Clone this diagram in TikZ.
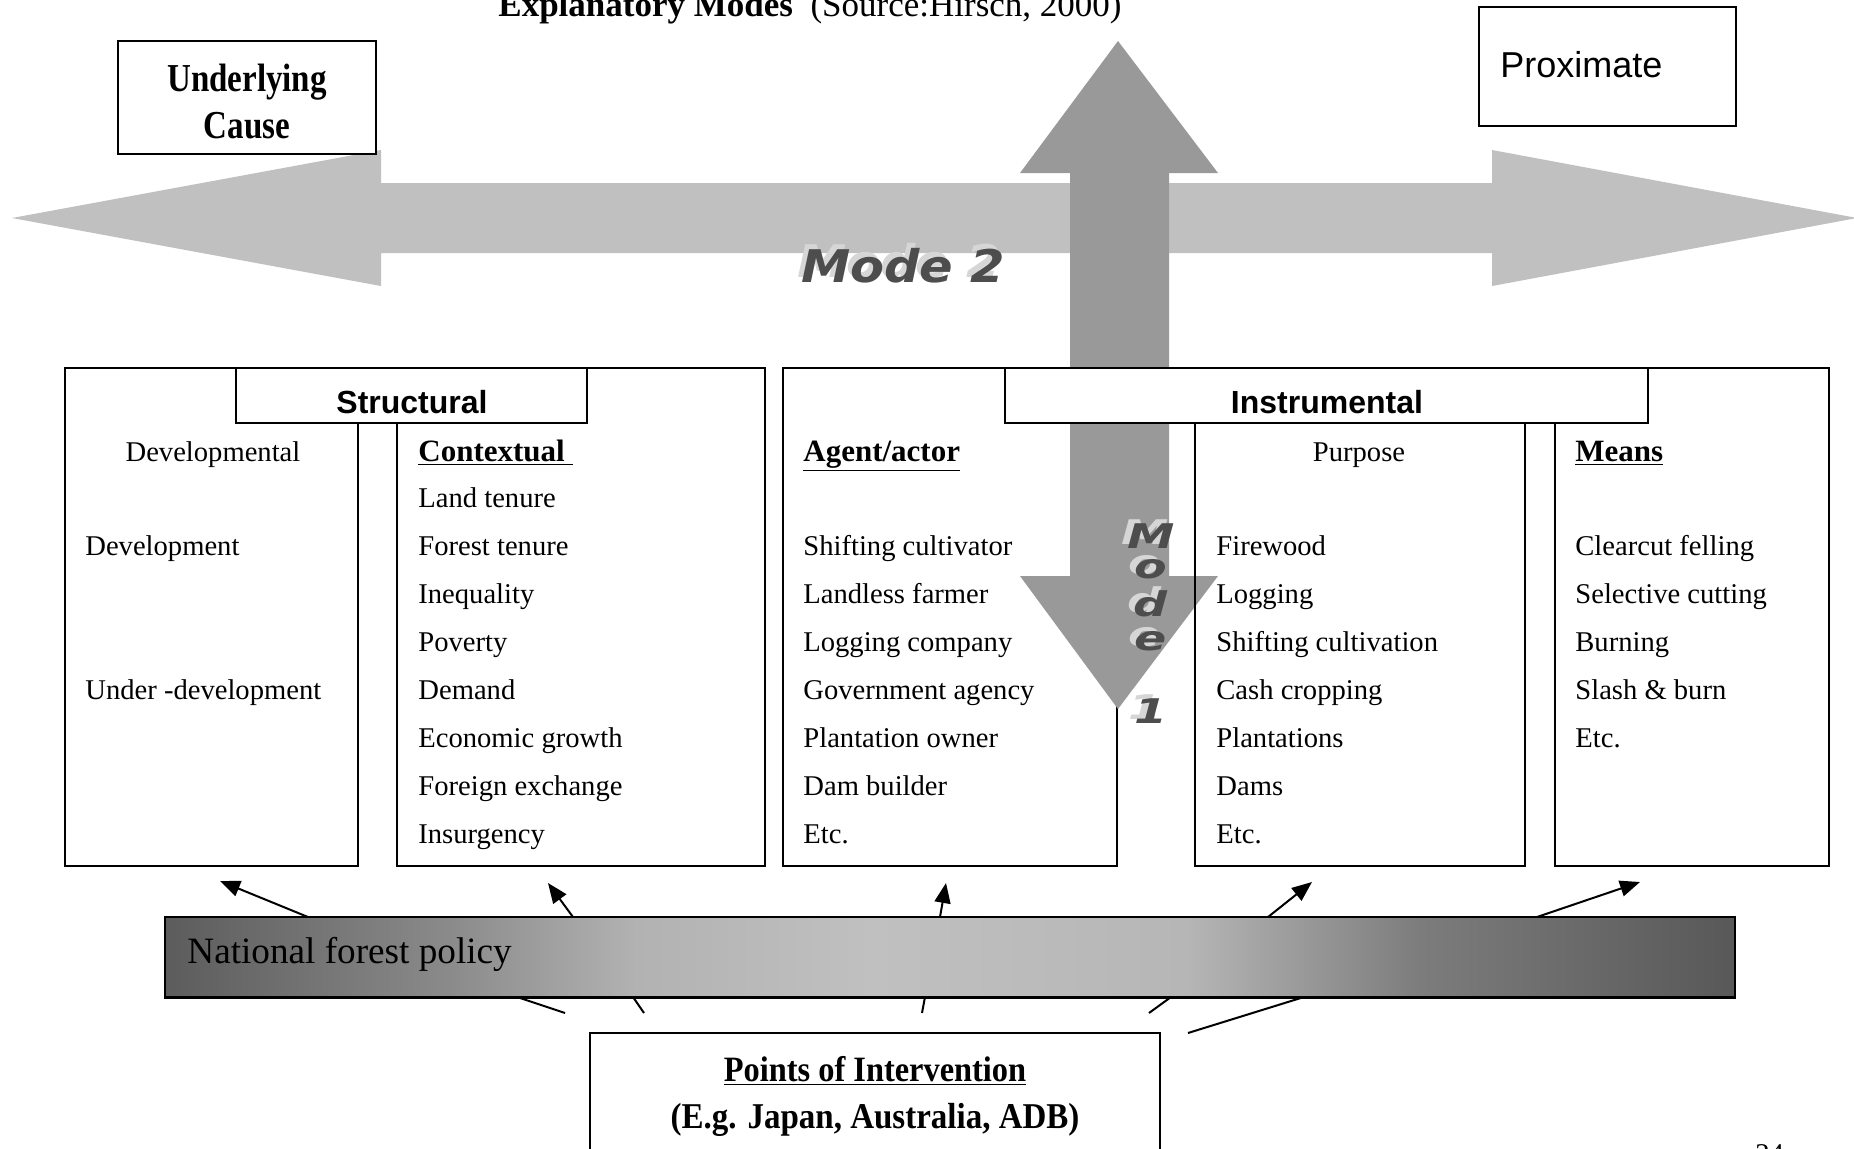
\documentclass[tikz,border=0pt]{standalone}
\usepackage{fontspec}
\usepackage{graphicx}
\setmainfont{Liberation Serif}
\setsansfont{Liberation Sans}
\newfontfamily\modefont{DejaVu Sans}
\usetikzlibrary{arrows.meta,fit}
\definecolor{bar0}{HTML}{5C5C5C}
\definecolor{bar1}{HTML}{8A8A8A}
\definecolor{bar2}{HTML}{B2B2B2}
\definecolor{bar3}{HTML}{C0C0C0}
\definecolor{bar4}{HTML}{B6B6B6}
\definecolor{bar5}{HTML}{7C7C7C}
\definecolor{bar6}{HTML}{585858}
\definecolor{harrowc}{HTML}{C0C0C0}
\definecolor{varrowc}{HTML}{999999}
\definecolor{modedark}{HTML}{4D4D4D}
\definecolor{modelight}{HTML}{D6D6D6}
\pgfdeclarehorizontalshading{barshade}{100bp}{color(0bp)=(bar0); color(25bp)=(bar0); color(34bp)=(bar1); color(40bp)=(bar2); color(47.5bp)=(bar3); color(57.5bp)=(bar4); color(65bp)=(bar5); color(75bp)=(bar6); color(100bp)=(bar6)}
\begin{document}
\begin{tikzpicture}[x=0.5pt,y=-0.5pt,
  box/.style={draw=black,line width=0.9pt,inner sep=0pt},
  lbl/.style={box,fill=white},
  tx/.style={anchor=base west,inner sep=0pt,font=\fontsize{14.3}{17}\selectfont},
  txc/.style={tx,anchor=base},
  hd/.style={anchor=base west,inner sep=0pt,font=\bfseries\fontsize{15.5}{18}\selectfont},
  lbltx/.style={anchor=base,inner sep=0pt,font=\sffamily\bfseries\fontsize{16}{19}\selectfont},
  arr/.style={line width=1pt,-{Triangle[length=10pt,width=8pt]}},
  ln/.style={line width=1pt},
  modetwo/.style={inner sep=0pt,font=\modefont\bfseries\itshape\fontsize{22.5}{23}\selectfont},
  modeone/.style={inner sep=0pt,font=\modefont\bfseries\itshape\fontsize{17}{17}\selectfont}
]
\useasboundingbox (0,0) rectangle (1854,1148);
\clip (0,0) rectangle (1854,1148);
\fill[white] (0,0) rectangle (1854,1148);

% title
\node[anchor=base,inner sep=0pt,font=\fontsize{17.5}{20}\selectfont] (title) at (810,16)
  {\textbf{Explanatory Modes}\ \ (Source:Hirsch, 2000)};

% horizontal double arrow (Mode 2)
\fill[harrowc] (12,218) -- (381,150) -- (381,183) -- (1492,183) -- (1492,150) -- (1857,218)
  -- (1492,286) -- (1492,253) -- (381,253) -- (381,286) -- cycle;

% Underlying / Proximate
\node[box,fill=white,fit={(118,41) (376,154)}] (cause) {};
\node[anchor=base,inner sep=0pt,font=\bfseries\fontsize{16.5}{19}\selectfont] (causet1) at (247,91) {\scalebox{1}[1.2]{Underlying}};
\node[anchor=base,inner sep=0pt,font=\bfseries\fontsize{16.5}{19}\selectfont] (causet2) at (247,138) {\scalebox{1}[1.2]{Cause}};
\node[box,fill=white,fit={(1479,7) (1736,126)}] (prox) {};
\node[anchor=base west,inner sep=0pt,font=\sffamily\fontsize{18}{21}\selectfont] (proxt) at (1500,77) {Proximate};

% Mode 2 text
\node[modetwo,text=modelight] (m2s) at (899,261) {\scalebox{1.1}[1]{Mode 2}};
\node[modetwo,text=modedark] (m2) at (903,266) {\scalebox{1.1}[1]{Mode 2}};

% left boxes
\node[box,fill=white,fit={(65,368) (358,866)}] (dev) {};
\node[box,fill=white,fit={(397,368) (765,866)}] (ctx) {};
\node[box,fill=white,fit={(783,368) (1117,866)}] (agent) {};

% vertical double arrow (Mode 1)
\fill[varrowc] (1118,41) -- (1218,173) -- (1169,173) -- (1169,576) -- (1218,576) -- (1118,709)
  -- (1020,576) -- (1070,576) -- (1070,173) -- (1020,173) -- cycle;

% right boxes
\node[box,fit={(1195,368) (1525,866)}] (purp) {};
\node[box,fill=white,fit={(1555,368) (1829,866)}] (means) {};

% labels
\node[lbl,fit={(236,368) (587,423)}] (struct) {};
\node[lbltx] (structt) at (412,413) {Structural};
\node[lbl,fit={(1005,368) (1648,423)}] (instr) {};
\node[lbltx] (instrt) at (1327,413) {Instrumental};

% Mode 1 vertical letters
\foreach \l/\yy [count=\i] in {M/535,o/568,d/603,e/640,1/710}{
  \node[modeone,text=modelight] (m1s\i) at (1145,\yy-3) {\scalebox{1.4}[1]{\l}};
  \node[modeone,text=modedark] (m1\i) at (1151,\yy+1) {\scalebox{1.4}[1]{\l}};
}

% Developmental column
\node[txc] (dev0) at (213,461) {Developmental};
\node[tx] (dev1) at (85,555) {Development};
\node[tx] (dev2) at (85,699) {Under -development};

% Contextual column
\node[hd] (ctx0) at (418,461) {\underline{Contextual\ }};
\foreach \t [count=\i] in {Land tenure,Forest tenure,Inequality,Poverty,Demand,Economic growth,Foreign exchange,Insurgency}{
  \node[tx] (ctx\i) at (418,{507+48.1*(\i-1)}) {\t};
}

% Agent column
\node[hd] (ag0) at (803,461) {\underline{Agent/actor}};
\foreach \t [count=\i] in {Shifting cultivator,Landless farmer,Logging company,Government agency,Plantation owner,Dam builder,Etc.}{
  \node[tx] (ag\i) at (803,{555+48.1*(\i-1)}) {\t};
}

% Purpose column
\node[txc] (pu0) at (1359,461) {Purpose};
\foreach \t [count=\i] in {Firewood,Logging,Shifting cultivation,Cash cropping,Plantations,Dams,Etc.}{
  \node[tx] (pu\i) at (1216,{555+48.1*(\i-1)}) {\t};
}

% Means column
\node[hd] (me0) at (1575,461) {\underline{Means}};
\foreach \t [count=\i] in {Clearcut felling,Selective cutting,Burning,Slash \& burn,Etc.}{
  \node[tx] (me\i) at (1575,{555+48.1*(\i-1)}) {\t};
}

% National forest policy bar
\node[box,shade,shading=barshade,fit={(165,917) (1735,997)}] (bar) {};
\draw[line width=1.3pt] (bar.south west) -- (bar.south east);
\node[anchor=base west,inner sep=0pt,font=\fontsize{18.6}{22}\selectfont] (bart) at (187,963) {National forest policy};

% arrows from bar to columns
\coordinate (s1) at (308,917);  \coordinate (e1) at (220,881);
\coordinate (s2) at (573,917);  \coordinate (e2) at (548,883);
\coordinate (s3) at (940,917);  \coordinate (e3) at (946,883);
\coordinate (s4) at (1268,917); \coordinate (e4) at (1312,882);
\coordinate (s5) at (1537,917); \coordinate (e5) at (1640,882);
\foreach \i in {1,...,5}{ \draw[arr] (s\i) -- (e\i); }

% Points of intervention
\node[box,fill=white,fit={(590,1033) (1160,1170)}] (poi) {};
\node[anchor=base,inner sep=0pt,font=\bfseries\fontsize{16.2}{19}\selectfont] (poit1) at (875,1081) {\scalebox{1}[1.1]{\underline{Points of Intervention}}};
\node[anchor=base,inner sep=0pt,font=\bfseries\fontsize{16.5}{19}\selectfont] (poit2) at (875,1128) {\scalebox{1}[1.1]{(E.g. Japan, Australia, ADB)}};

% lines between points box and bar
\coordinate (p1) at (565,1013); \coordinate (q1) at (517,997);
\coordinate (p2) at (644,1013); \coordinate (q2) at (633,997);
\coordinate (p3) at (922,1013); \coordinate (q3) at (925,997);
\coordinate (p4) at (1149,1013); \coordinate (q4) at (1171,997);
\coordinate (p5) at (1188,1033); \coordinate (q5) at (1304,997);
\foreach \i in {1,...,5}{ \draw[ln] (p\i) -- (q\i); }

% page number
\node[tx] (pg) at (1755,1163) {24};
\end{tikzpicture}
\end{document}
